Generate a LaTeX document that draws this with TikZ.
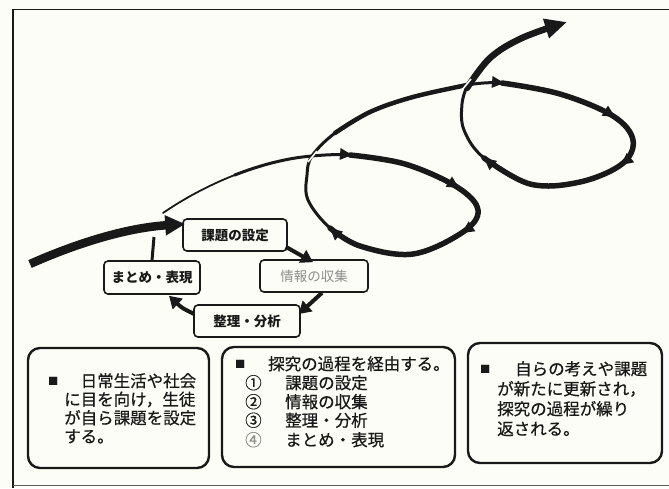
\documentclass[tikz,border=0pt]{standalone}
\usepackage{fontspec}
\setmainfont{Noto Sans CJK JP}
\newfontfamily\jpthick[FakeBold=0.6]{Noto Sans CJK JP}
\usetikzlibrary{arrows.meta,calc}
\definecolor{bg}{RGB}{253,253,247}
\definecolor{ink}{RGB}{25,25,25}
\definecolor{greytxt}{RGB}{140,140,140}
\newcommand{\sqm}{\raisebox{2.4pt}{\fontsize{10}{10}\selectfont ■}}
\newcommand{\sparrow}[2]{\fill[ink, shift={#1}, rotate=#2] (0,0) -- (-12,6) -- (-12,-6) -- cycle;}
\begin{document}
\begin{tikzpicture}[x=1pt,y=-1pt,
  cyc/.style={ink, line width=4pt, -{Triangle[length=12pt,width=14pt]}},
  stepbox/.style={draw=ink, line width=1.6pt, rounded corners=4pt, fill=bg, inner sep=0pt, text=ink,
    font=\fontsize{13.5}{14}\selectfont\bfseries},
  bigbox/.style={draw=ink, line width=2.4pt, rounded corners=12pt, fill=bg, inner sep=0pt},
  ln/.style={anchor=base west, inner sep=0pt, font=\jpthick\fontsize{16.5}{19}\selectfont, text=ink},
  sp/.style={ink, line cap=round, line join=round},
]
\fill[bg] (0,0) rectangle (669,488);
\useasboundingbox (0,0) rectangle (669,488);
% frame
\draw[ink, line width=1.5pt] (669,9.5) -- (13,9.5) -- (13,488);
\draw[ink!70, line width=1pt] (13,485) -- (669,485);

% spiral start (tapered)
\draw[sp, line width=1.8pt] (163,213) .. controls (184,198.5) and (208.75,185.25) .. (234.5,175.1);
\draw[sp, line width=3pt] (234.5,175.1) .. controls (260.25,165) and (287,158) .. (312,156);
% loop 1
\draw[sp, line width=3pt] plot[smooth, tension=0.6] coordinates {(312,156) (350,155) (405,164) (457,187) (478,210) (463,232) (413,254) (360,246) (330,228) (308,200) (307,175) (312,156) (335,133) (370,112) (413,97) (467,85)};
\draw[sp, line width=5.5pt] plot[smooth, tension=0.6] coordinates {(350,155) (405,164) (457,187) (478,210) (463,232) (413,254) (360,246) (330,228)};
\draw[sp, line width=4.5pt] plot[smooth, tension=0.6] coordinates {(335,133) (370,112) (413,97) (467,85)};
% loop 2
\draw[sp, line width=3pt] plot[smooth, tension=0.6] coordinates {(467,85) (502,83) (560,94) (613,116) (633,140) (622,164) (580,182) (530,184) (484,158) (464,130) (462,104) (467,86)};
\draw[sp, line width=5.5pt] plot[smooth, tension=0.6] coordinates {(502,83) (560,94) (613,116) (633,140) (622,164) (580,182) (530,184) (484,158)};
% final arrow
\draw[sp, line width=6.5pt, -{Triangle[length=22pt,width=19pt]}] plot[smooth, tension=0.6] coordinates {(467,88) (490,58) (522,38) (567,22)};

% arrowheads on loops
\sparrow{(352,155)}{-5}
\sparrow{(459,188)}{-32}
\sparrow{(462,233)}{-146}
\sparrow{(330,228)}{138}
\sparrow{(504,83)}{-5}
\sparrow{(615,117)}{-32}
\sparrow{(621,165)}{-142}
\sparrow{(484,158)}{141}

% crossing gaps
\draw[bg, line width=1.6pt] (308,162) -- (317,151);
\draw[bg, line width=1.6pt] (462,90) -- (471,79);

% cycle boxes
\node[stepbox, minimum width=104pt, minimum height=32pt] (kadai) at (235,235) {課題の設定};
\node[stepbox, minimum width=96pt, minimum height=33pt] (matome) at (152,277.5) {まとめ・表現};
\node[stepbox, minimum width=108pt, minimum height=32pt, text=greytxt, font=\fontsize{13.5}{14}\selectfont\mdseries] (joho) at (314,276) {情報の収集};
\node[stepbox, minimum width=106pt, minimum height=32pt] (seiri) at (247,321) {整理・分析};

% big incoming arrow
\coordinate (in0) at (30,264);
\draw[ink, line width=8.5pt, -{Triangle[length=20pt,width=19pt]}] (in0) .. controls (75,244) and (125,228) .. ($(kadai.west)+(3,-11)$);

% cycle arrows
\draw[cyc] ($(kadai.south east)+(-2,-5)$) -- ($(joho.north)+(-1,3)$);
\draw[cyc] ($(joho.south)+(8,0)$) -- ($(seiri.east)+(-2,-7)$);
\draw[cyc] ($(seiri.west)+(1,-7)$) .. controls (182,308) .. ($(matome.south)+(17,1)$);
\coordinate (mtop) at (154,237);
\draw[ink, line width=3pt] (matome.north) -- (mtop);

% bottom boxes
\node[bigbox, minimum width=181pt, minimum height=120pt] (b1) at (118.5,408) {};
\node[bigbox, minimum width=233pt, minimum height=120pt] (b2) at (338.5,407) {};
\node[bigbox, minimum width=194pt, minimum height=120pt] (b3) at (565,403) {};

% box 1 text
\node[ln] (t1a) at (64,387) {\makebox[0pt][l]{\hspace*{-16pt}\sqm}\hspace*{16.5pt}日常生活や社会};
\node[ln] (t1b) at (64,405.5) {に目を向け，生徒};
\node[ln] (t1c) at (64,424) {が自ら課題を設定};
\node[ln] (t1d) at (64,442.5) {する。};
% box 2 text
\node[ln] (t2a) at (245,370) {\makebox[0pt][l]{\hspace*{-10pt}\sqm}\hspace*{23pt}探究の過程を経由する。};
\node[ln] (t2b) at (245,389) {\makebox[16.5pt][c]{①}\hspace*{23.5pt}課題の設定};
\node[ln] (t2c) at (245,408) {\makebox[16.5pt][c]{②}\hspace*{23.5pt}情報の収集};
\node[ln] (t2d) at (245,426.5) {\makebox[16.5pt][c]{③}\hspace*{23.5pt}整理・分析};
\node[ln] (t2e) at (245,446) {\makebox[16.5pt][c]{\textcolor{greytxt}{④}}\hspace*{23.5pt}まとめ・表現};
% box 3 text
\node[ln] (t3a) at (497,375) {\makebox[0pt][l]{\hspace*{-17pt}\sqm}\hspace*{18pt}自らの考えや課題};
\node[ln] (t3b) at (497,395) {が新たに更新され，};
\node[ln] (t3c) at (497,415) {探究の過程が繰り};
\node[ln] (t3d) at (497,435) {返される。};
\end{tikzpicture}
\end{document}
